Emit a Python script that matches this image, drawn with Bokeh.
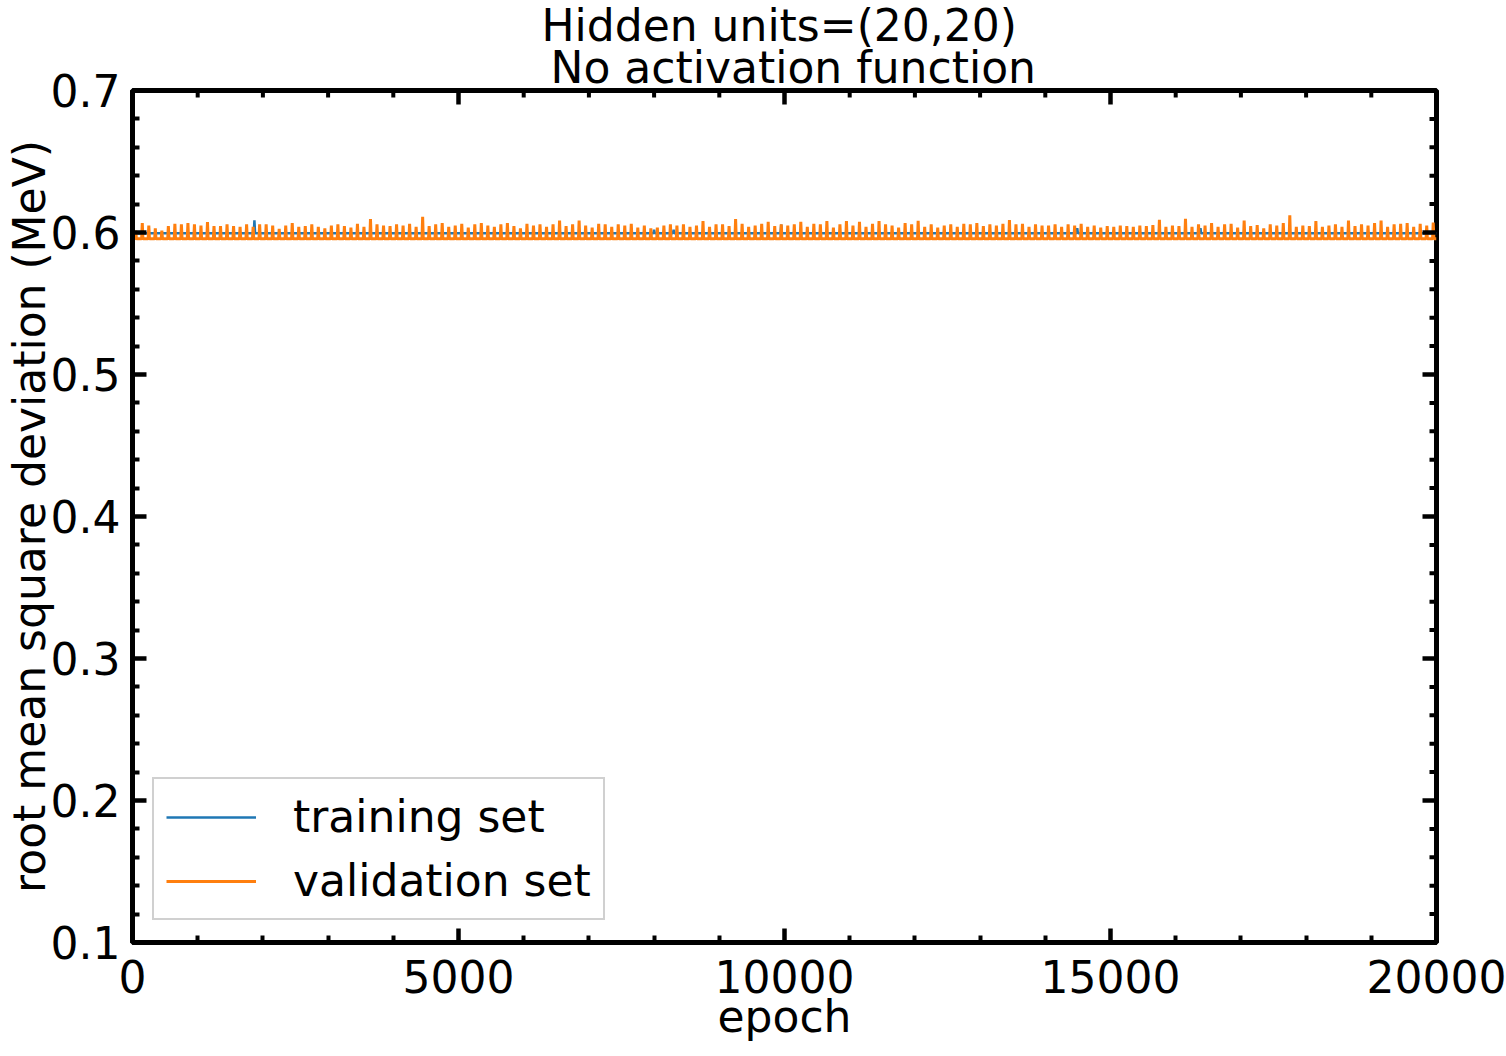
from bokeh.plotting import figure
from bokeh.models import (FixedTicker, Legend, LegendItem, Title, Range1d)
from bokeh.embed import file_html
from bokeh.resources import INLINE

# ---- data ----
title_lines = ["Hidden units=(20,20)", "No activation function"]
x_ticks = [0, 5000, 10000, 15000, 20000]
x_minor = [1000, 2000, 3000, 4000, 6000, 7000, 8000, 9000, 11000, 12000, 13000, 14000,
           16000, 17000, 18000, 19000]
y_ticks = [0.1, 0.2, 0.3, 0.4, 0.5, 0.6, 0.7]
y_minor = [0.12, 0.14, 0.16, 0.18, 0.22, 0.24, 0.26, 0.28, 0.32, 0.34, 0.36, 0.38,
           0.42, 0.44, 0.46, 0.48, 0.52, 0.54, 0.56, 0.58, 0.62, 0.64, 0.66, 0.68]

# training set (blue): nearly flat with a few small bumps
train_epochs = [0, 1860, 1870, 1880, 7990, 8000, 8010, 8290, 8300, 8310,
                9940, 9950, 9960, 14480, 14490, 14500, 16370, 16380, 16390, 20000]
train_rmsd = [0.5995, 0.5995, 0.6085, 0.5995, 0.5995, 0.6020, 0.5995, 0.5995, 0.6020, 0.5995,
              0.5995, 0.6056, 0.5995, 0.5995, 0.6030, 0.5995, 0.5995, 0.6030, 0.5995, 0.5995]

# validation set (orange): baseline with a narrow spike every ~100 epochs
val_baseline = 0.5956
val_spike_step = 100
val_spikes = [
    0.6014, 0.6066, 0.6049, 0.6030, 0.6014, 0.6045, 0.6062, 0.6058, 0.6066, 0.6058,
    0.6049, 0.6073, 0.6045, 0.6045, 0.6058, 0.6045, 0.6040, 0.6058, 0.6040, 0.6058,
    0.6058, 0.6049, 0.6026, 0.6049, 0.6066, 0.6040, 0.6045, 0.6058, 0.6040, 0.6030,
    0.6049, 0.6058, 0.6045, 0.6035, 0.6062, 0.6040, 0.6095, 0.6058, 0.6049, 0.6045,
    0.6058, 0.6049, 0.6062, 0.6040, 0.6110, 0.6045, 0.6058, 0.6066, 0.6040, 0.6049,
    0.6062, 0.6035, 0.6058, 0.6066, 0.6049, 0.6040, 0.6058, 0.6066, 0.6045, 0.6030,
    0.6062, 0.6049, 0.6058, 0.6040, 0.6058, 0.6084, 0.6045, 0.6058, 0.6084, 0.6049,
    0.6035, 0.6062, 0.6058, 0.6040, 0.6058, 0.6049, 0.6062, 0.6035, 0.6049, 0.6030,
    0.6035, 0.6049, 0.6058, 0.6049, 0.6058, 0.6040, 0.6049, 0.6080, 0.6040, 0.6058,
    0.6058, 0.6045, 0.6094, 0.6062, 0.6040, 0.6049, 0.6062, 0.6075, 0.6045, 0.6058,
    0.6049, 0.6058, 0.6075, 0.6040, 0.6062, 0.6058, 0.6080, 0.6035, 0.6058, 0.6080,
    0.6049, 0.6075, 0.6040, 0.6062, 0.6080, 0.6058, 0.6049, 0.6035, 0.6066, 0.6058,
    0.6083, 0.6040, 0.6058, 0.6035, 0.6049, 0.6058, 0.6040, 0.6062, 0.6058, 0.6066,
    0.6045, 0.6058, 0.6049, 0.6062, 0.6087, 0.6058, 0.6062, 0.6040, 0.6058, 0.6049,
    0.6049, 0.6058, 0.6040, 0.6058, 0.6049, 0.6062, 0.6040, 0.6049, 0.6035, 0.6045,
    0.6040, 0.6049, 0.6045, 0.6040, 0.6049, 0.6045, 0.6053, 0.6089, 0.6040, 0.6049,
    0.6045, 0.6096, 0.6040, 0.6058, 0.6049, 0.6066, 0.6040, 0.6058, 0.6062, 0.6035,
    0.6085, 0.6045, 0.6053, 0.6030, 0.6058, 0.6049, 0.6066, 0.6122, 0.6040, 0.6049,
    0.6045, 0.6080, 0.6040, 0.6049, 0.6058, 0.6040, 0.6085, 0.6045, 0.6058, 0.6049,
    0.6066, 0.6085, 0.6040, 0.6058, 0.6062, 0.6066, 0.6040, 0.6062, 0.6049, 0.6070,
]

val_epochs = []
val_rmsd = []
for i, h in enumerate(val_spikes):
    e0 = i * val_spike_step
    val_epochs += [e0 + 40, e0 + 50, e0 + 60]
    val_rmsd += [val_baseline, h, val_baseline]
val_epochs = [0] + val_epochs + [len(val_spikes) * val_spike_step]
val_rmsd = [val_baseline] + val_rmsd + [val_baseline]

FONT = "DejaVu Sans"
FS = "44px"
BLUE = "#1f77b4"
ORANGE = "#ff7f0e"

W, H = 1506, 1056
BL, BR, BT, BB = 130, 70, 90, 114
FW, FH = W - 132 - BR, H - BT - BB
X0, X1, Y0, Y1 = 0, 20000, 0.1, 0.7

p = figure(width=W, height=H, output_backend="svg", toolbar_location=None,
           x_range=Range1d(X0, X1), y_range=Range1d(Y0, Y1),
           min_border_left=BL, min_border_right=BR, min_border_top=BT, min_border_bottom=BB,
           x_axis_label="epoch", y_axis_label="root mean square deviation (MeV)")
p.background_fill_color = "white"
p.border_fill_color = "white"
p.grid.visible = False
p.outline_line_color = "black"
p.outline_line_width = 5

r_train = p.line(train_epochs, train_rmsd, line_color=BLUE, line_width=2.5)
r_val = p.line(val_epochs, val_rmsd, line_color=ORANGE, line_width=3)

MAJ, MIN = 14, 7

def style_axis(ax):
    ax.axis_line_width = 5
    ax.major_tick_in = MAJ
    ax.major_tick_out = 0
    ax.minor_tick_in = MIN
    ax.minor_tick_out = 0
    ax.major_tick_line_width = 4.5
    ax.minor_tick_line_width = 4
    ax.major_label_text_font = FONT
    ax.major_label_text_font_size = FS
    ax.axis_label_text_font = FONT
    ax.axis_label_text_font_style = "normal"
    ax.axis_label_text_font_size = FS
    ax.major_label_text_color = "black"
    ax.axis_label_text_color = "black"

p.xaxis.ticker = FixedTicker(ticks=x_ticks, minor_ticks=x_minor)
p.yaxis.ticker = FixedTicker(ticks=y_ticks, minor_ticks=y_minor)
style_axis(p.xaxis[0])
style_axis(p.yaxis[0])
p.xaxis.major_label_standoff = 17
p.xaxis.axis_label_standoff = -5
p.yaxis.major_label_standoff = 12
p.yaxis.axis_label_standoff = -7

# mirrored inward ticks on the top and right sides, placed at the tick values
dy_maj = MAJ * (Y1 - Y0) / FH
dy_min = MIN * (Y1 - Y0) / FH
dx_maj = MAJ * (X1 - X0) / FW
dx_min = MIN * (X1 - X0) / FW
p.segment(x0=x_ticks, y0=[Y1] * len(x_ticks), x1=x_ticks, y1=[Y1 - dy_maj] * len(x_ticks),
          line_color="black", line_width=4.5)
p.segment(x0=x_minor, y0=[Y1] * len(x_minor), x1=x_minor, y1=[Y1 - dy_min] * len(x_minor),
          line_color="black", line_width=4)
p.segment(x0=[X1] * len(y_ticks), y0=y_ticks, x1=[X1 - dx_maj] * len(y_ticks), y1=y_ticks,
          line_color="black", line_width=4.5)
p.segment(x0=[X1] * len(y_minor), y0=y_minor, x1=[X1 - dx_min] * len(y_minor), y1=y_minor,
          line_color="black", line_width=4)

# two-line title with left-aligned lines (inner line added first)
p.add_layout(Title(text=title_lines[1], align="left", offset=418,
                   text_font=FONT, text_font_size=FS, text_font_style="normal",
                   text_color="black", standoff=-4), "above")
p.add_layout(Title(text=title_lines[0], align="left", offset=409,
                   text_font=FONT, text_font_size=FS, text_font_style="normal",
                   text_color="black", standoff=-18), "above")

legend = Legend(items=[LegendItem(label="training set", renderers=[r_train]),
                       LegendItem(label="validation set", renderers=[r_val])],
                location=(20, 22), label_text_font=FONT, label_text_font_size=FS,
                label_text_color="black",
                glyph_width=90, glyph_height=40, label_height=40, label_standoff=37,
                spacing=13, padding=12, margin=0,
                border_line_color="#d0d0d0", border_line_width=2, border_line_alpha=1,
                background_fill_color="white", background_fill_alpha=0.8)
p.add_layout(legend, "center")

open("out.html", "w").write(file_html(p, INLINE))
